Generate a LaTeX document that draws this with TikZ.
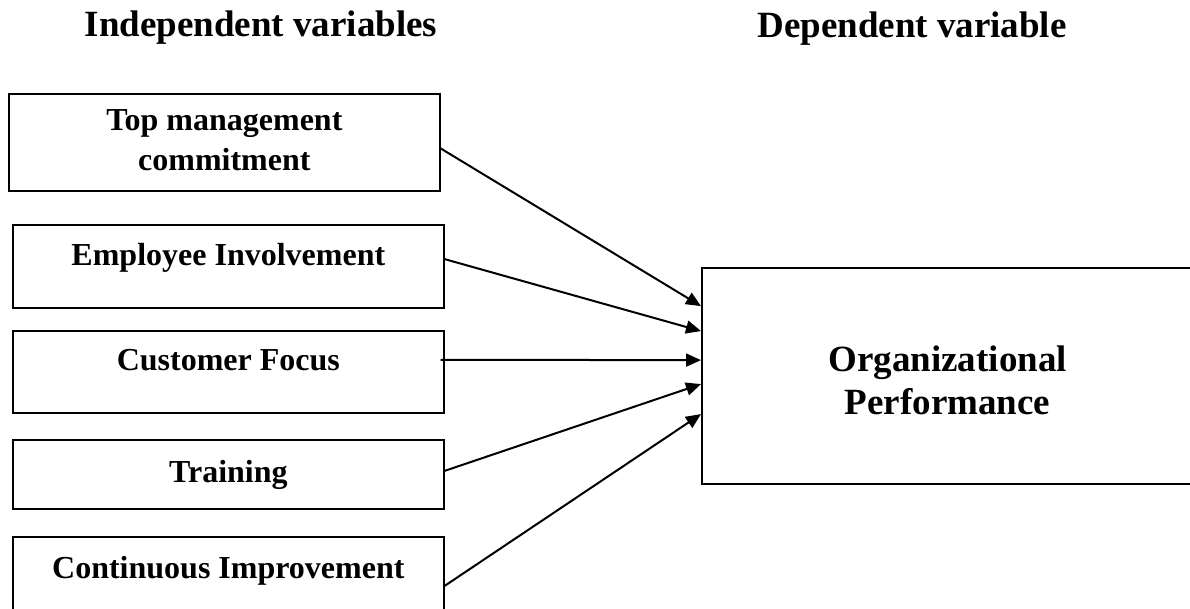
\documentclass[tikz,border=0pt]{standalone}
\usepackage{fontspec}
\setmainfont{Liberation Serif}
\usetikzlibrary{arrows.meta, calc, positioning}

\begin{document}
\begin{tikzpicture}[x=1pt,y=-1pt,
    varbox/.style={draw, line width=1.7pt, inner sep=0pt, minimum width=431pt,
      anchor=north west, align=center, font=\fontsize{32}{40}\selectfont\bfseries},
    headtxt/.style={anchor=base, inner sep=0pt, font=\fontsize{37}{43}\selectfont\bfseries},
    arr/.style={-{Triangle[length=15pt,width=13pt]}, line width=2pt}]
  \useasboundingbox (0,0) rectangle (1190,608);
  % column heads
  \node[headtxt] (indep) at (261,36) {Independent variables};
  \node[headtxt] (dep) at (912,37) {Dependent variable};
  % independent variables
  \node[varbox, text height=77pt, text depth=20pt] (tmc) at (8,93) {Top management\\commitment};
  \node[varbox, text height=41pt, text depth=42pt] (emp) at (12,224) {Employee Involvement};
  \node[varbox, text height=40pt, text depth=42pt] (cust) at (12,330) {Customer Focus};
  \node[varbox, text height=43pt, text depth=26pt] (train) at (12,439) {Training};
  \node[varbox, text height=42pt, text depth=34pt] (cont) at (12,536) {Continuous Improvement};
  % dependent variable
  \node[draw, line width=2.2pt, inner sep=0pt, minimum width=491pt, anchor=north west,
    align=center, text height=146pt, text depth=70pt,
    font=\fontsize{37}{43}\selectfont\bfseries] (perf) at (701,267) {Organizational\\Performance};
  \foreach \src/\dx/\dy/\ey in {tmc/-1/5.5/-70, emp/-1/-7.5/-45, cust/-4/-12/-16, train/0/-3.5/8, cont/0/11/38}
    \draw[arr] ($(\src.east)+(\dx,\dy)$) -- ($(perf.west)+(0,\ey)$);
\end{tikzpicture}
\end{document}
